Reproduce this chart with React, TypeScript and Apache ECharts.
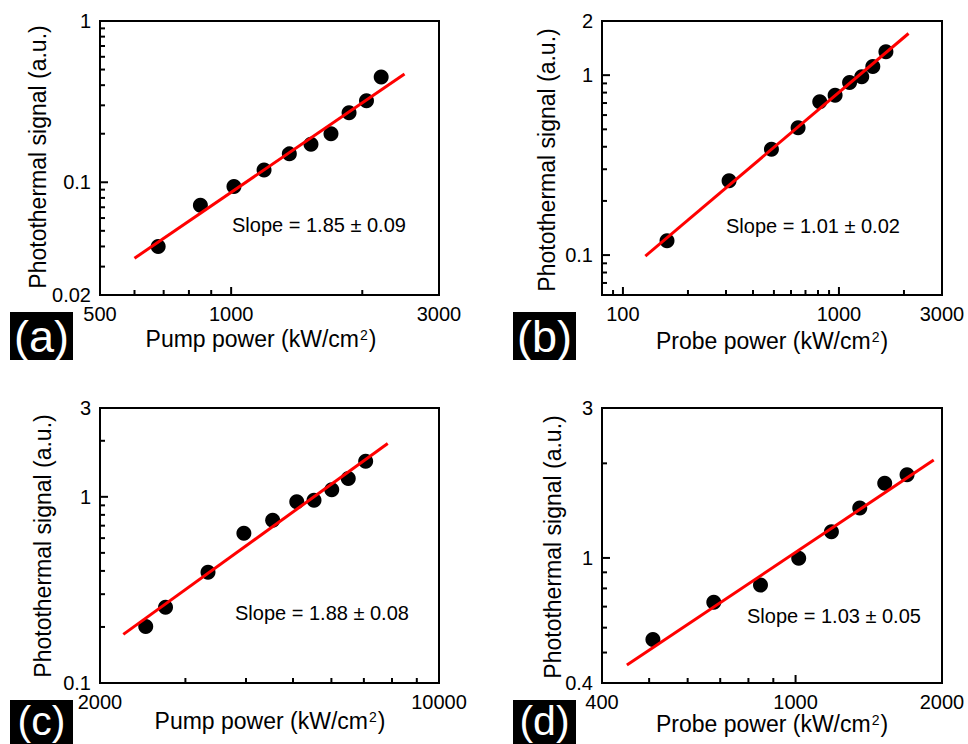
import React, { useEffect, useRef } from 'react';
import * as echarts from 'echarts';

const FONT = 'Arial, "Liberation Sans", Helvetica, sans-serif';

// ---------- Panel (a): pump power dependence ----------
const aPump = [680, 850, 1015, 1190, 1360, 1525, 1695, 1865, 2045, 2210];
const aSignal = [0.040, 0.072, 0.094, 0.119, 0.150, 0.172, 0.200, 0.270, 0.320, 0.450];
const aFitX = [600, 2500];
const aFitY = [0.0338, 0.469];
const aXLabels = [500, 1000, 3000];
const aXMajor = [1000];
const aXMinor = [600, 700, 800, 900, 2000];
const aYLabels = [0.02, 0.1, 1];
const aYMajor = [0.1];
const aYMinor = [0.03, 0.04, 0.05, 0.06, 0.07, 0.08, 0.09, 0.2, 0.3, 0.4, 0.5, 0.6, 0.7, 0.8, 0.9];

// ---------- Panel (b): probe power dependence ----------
const bProbe = [160, 310, 487, 647, 815, 960, 1120, 1275, 1435, 1650];
const bSignal = [0.120, 0.259, 0.388, 0.510, 0.711, 0.774, 0.911, 0.979, 1.117, 1.348];
const bFitX = [127, 2100];
const bFitY = [0.0988, 1.704];
const bXLabels = [100, 1000, 3000];
const bXMajor = [100, 1000];
const bXMinor = [90, 200, 300, 400, 500, 600, 700, 800, 900, 2000];
const bYLabels = [0.1, 1, 2];
const bYMajor = [0.1, 1];
const bYMinor = [0.07, 0.08, 0.09, 0.2, 0.3, 0.4, 0.5, 0.6, 0.7, 0.8, 0.9];

// ---------- Panel (c): pump power dependence ----------
const cPump = [2485, 2730, 3340, 3960, 4540, 5090, 5525, 6010, 6500, 7060];
const cSignal = [0.201, 0.255, 0.393, 0.638, 0.749, 0.940, 0.959, 1.090, 1.254, 1.552];
const cFitX = [2234, 7839];
const cFitY = [0.1825, 1.932];
const cXLabels = [2000, 10000];
const cXMajor: number[] = [];
const cXMinor = [3000, 4000, 5000, 6000, 7000, 8000, 9000];
const cYLabels = [0.1, 1, 3];
const cYMajor = [1];
const cYMinor = [0.2, 0.3, 0.4, 0.5, 0.6, 0.7, 0.8, 0.9, 2];

// ---------- Panel (d): probe power dependence ----------
const dProbe = [509, 679, 847, 1015, 1185, 1355, 1525, 1695];
const dSignal = [0.550, 0.723, 0.820, 0.997, 1.212, 1.441, 1.727, 1.841];
const dFitX = [450, 1923];
const dFitY = [0.456, 2.049];
const dXLabels = [400, 1000, 2000];
const dXMajor = [1000];
const dXMinor = [500, 600, 700, 800, 900];
const dYLabels = [0.4, 1, 3];
const dYMajor = [1];
const dYMinor = [0.5, 0.6, 0.7, 0.8, 0.9, 2];

const slopeTexts = ['Slope = 1.85 \u00b1 0.09', 'Slope = 1.01 \u00b1 0.02', 'Slope = 1.88 \u00b1 0.08', 'Slope = 1.03 \u00b1 0.05'];
const xTitles = ['Pump power (kW/cm{sup|2})', 'Probe power (kW/cm{sup|2})', 'Pump power (kW/cm{sup|2})', 'Probe power (kW/cm{sup|2})'];
const yTitle = 'Photothermal signal (a.u.)';
const panelTags = ['(a)', '(b)', '(c)', '(d)'];

const panels = [
  { grid: { left: 100, top: 21, width: 339, height: 274 }, xs: aPump, ys: aSignal, fx: aFitX, fy: aFitY, xr: [500, 3000], yr: [0.02, 1], xl: aXLabels, xM: aXMajor, xm: aXMinor, yl: aYLabels, yM: aYMajor, ym: aYMinor,
    slope: [232, 225], xt: [261, 339], yt: [38, 157], tag: [10, 312] },
  { grid: { left: 602, top: 21, width: 340, height: 274 }, xs: bProbe, ys: bSignal, fx: bFitX, fy: bFitY, xr: [80, 3000], yr: [0.06, 2], xl: bXLabels, xM: bXMajor, xm: bXMinor, yl: bYLabels, yM: bYMajor, ym: bYMinor,
    slope: [726, 226], xt: [772, 341], yt: [547, 160], tag: [513, 312] },
  { grid: { left: 100, top: 408, width: 339, height: 275 }, xs: cPump, ys: cSignal, fx: cFitX, fy: cFitY, xr: [2000, 10000], yr: [0.1, 3], xl: cXLabels, xM: cXMajor, xm: cXMinor, yl: cYLabels, yM: cYMajor, ym: cYMinor,
    slope: [235, 613], xt: [270, 721], yt: [43, 546], tag: [10, 700] },
  { grid: { left: 602, top: 408, width: 340, height: 275 }, xs: dProbe, ys: dSignal, fx: dFitX, fy: dFitY, xr: [400, 2000], yr: [0.4, 3], xl: dXLabels, xM: dXMajor, xm: dXMinor, yl: dYLabels, yM: dYMajor, ym: dYMinor,
    slope: [747, 616], xt: [772, 724], yt: [553, 547], tag: [513, 700] },
];

const MAJOR = 8;
const MINOR = 5;

function tickSeries(i: number, data: number[][], size: number[], offset: number[]) {
  return {
    type: 'scatter', xAxisIndex: i, yAxisIndex: i, symbol: 'rect', symbolSize: size, symbolOffset: offset,
    itemStyle: { color: '#000', opacity: 1 }, z: 6, silent: true, clip: false,
    emphasis: { disabled: true },
    data,
  };
}

function buildOption() {
  const grid: any[] = [];
  const xAxis: any[] = [];
  const yAxis: any[] = [];
  const series: any[] = [];
  const graphic: any[] = [];

  panels.forEach((p, i) => {
    grid.push({ ...p.grid, show: true, borderColor: '#000', borderWidth: 2, backgroundColor: 'transparent' });
    const axisCommon = {
      type: 'log', logBase: 10, gridIndex: i,
      axisLine: { show: false }, axisTick: { show: false }, axisLabel: { show: false },
      splitLine: { show: false }, minorTick: { show: false }, minorSplitLine: { show: false },
    };
    xAxis.push({ ...axisCommon, min: p.xr[0], max: p.xr[1] });
    yAxis.push({ ...axisCommon, min: p.yr[0], max: p.yr[1] });

    series.push({
      type: 'scatter', xAxisIndex: i, yAxisIndex: i, symbol: 'circle', symbolSize: 15,
      itemStyle: { color: '#000', opacity: 1 }, z: 3,
      data: p.xs.map((v, k) => [v, p.ys[k]]),
    });
    series.push({
      type: 'line', xAxisIndex: i, yAxisIndex: i, symbol: 'none', z: 4,
      lineStyle: { color: '#ff0000', width: 3, opacity: 1 },
      data: p.fx.map((v, k) => [v, p.fy[k]]),
    });

    // inward tick marks on bottom and left axes, placed by the axes' scales
    series.push(tickSeries(i, p.xM.map((v) => [v, p.yr[0]]), [2, MAJOR], [0, -MAJOR / 2]));
    series.push(tickSeries(i, p.xm.map((v) => [v, p.yr[0]]), [2, MINOR], [0, -MINOR / 2]));
    series.push(tickSeries(i, p.yM.map((v) => [p.xr[0], v]), [MAJOR, 2], [MAJOR / 2, 0]));
    series.push(tickSeries(i, p.ym.map((v) => [p.xr[0], v]), [MINOR, 2], [MINOR / 2, 0]));

    const labelData = [
      ...p.xl.map((v) => [v, p.yr[0]]),
      ...p.yl.map((v) => [p.xr[0], v]),
    ];
    const labelMeta = [
      ...p.xl.map((v) => ({ dir: 0, text: String(v) })),
      ...p.yl.map((v) => ({ dir: 1, text: String(v) })),
    ];
    series.push({
      type: 'custom', xAxisIndex: i, yAxisIndex: i, z: 5, silent: true, clip: false,
      data: labelData,
      renderItem: (params: any, api: any) => {
        const pt = api.coord([api.value(0), api.value(1)]);
        const m = labelMeta[params.dataIndex];
        return {
          type: 'text',
          x: m.dir === 0 ? pt[0] : pt[0] - 9,
          y: m.dir === 0 ? pt[1] + 19 : pt[1],
          style: {
            text: m.text, fill: '#000', fontSize: 20, fontFamily: FONT,
            align: m.dir === 0 ? 'center' : 'right', verticalAlign: 'middle',
          },
        };
      },
    });

    graphic.push({
      type: 'text', x: p.slope[0], y: p.slope[1],
      style: { text: slopeTexts[i], fill: '#000', fontSize: 20, fontFamily: FONT, align: 'left', verticalAlign: 'middle' },
    });
    graphic.push({
      type: 'text', x: p.xt[0], y: p.xt[1],
      style: {
        text: xTitles[i], fill: '#000', fontSize: 23, fontFamily: FONT, align: 'center', verticalAlign: 'middle',
        rich: { sup: { fontSize: 14, fontFamily: FONT, fill: '#000', verticalAlign: 'top', padding: [0, 1, 0, 1] } },
      },
    });
    graphic.push({
      type: 'text', x: p.yt[0], y: p.yt[1], rotation: Math.PI / 2,
      style: { text: yTitle, fill: '#000', fontSize: 23, fontFamily: FONT, align: 'center', verticalAlign: 'middle' },
    });
    graphic.push({
      type: 'rect', shape: { x: p.tag[0], y: p.tag[1], width: 63, height: i < 2 ? 48 : 44 }, style: { fill: '#000' },
    });
    graphic.push({
      type: 'text', x: p.tag[0] + 31.5, y: p.tag[1] + (i < 2 ? 24 : 21),
      style: { text: panelTags[i], fill: '#fff', fontSize: i < 2 ? 45 : 41, fontFamily: FONT, align: 'center', verticalAlign: 'middle' },
    });
  });

  return {
    animation: false,
    backgroundColor: '#fff',
    grid, xAxis, yAxis, series, graphic,
  };
}

export default function App() {
  const ref = useRef<HTMLDivElement>(null);
  useEffect(() => {
    if (!ref.current) return;
    const chart = echarts.init(ref.current, undefined, { renderer: 'svg' });
    chart.setOption(buildOption() as any);
    return () => chart.dispose();
  }, []);
  return <div ref={ref} style={{ position: 'fixed', left: 0, top: 0, width: 968, height: 744, background: '#fff' }} />;
}
